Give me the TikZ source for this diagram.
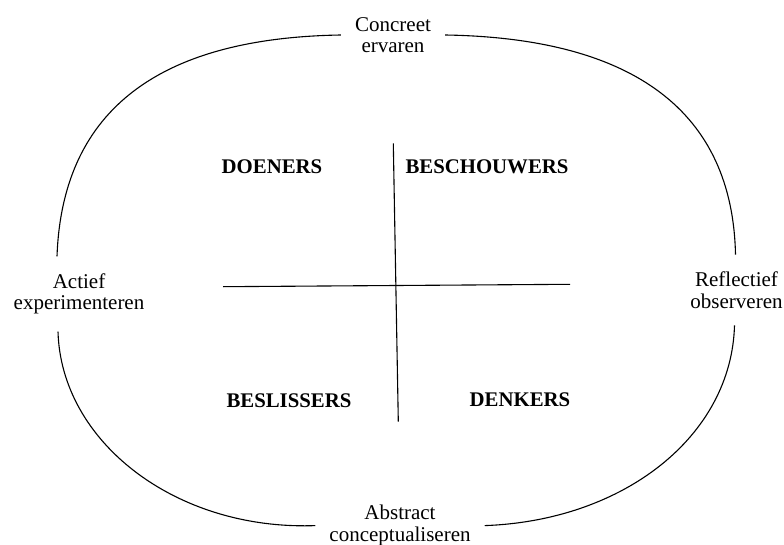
\documentclass[tikz,border=0pt]{standalone}
\usepackage{fontspec}
\setmainfont{Liberation Serif}
\usetikzlibrary{calc,positioning}

\begin{document}
\begin{tikzpicture}[x=1pt,y=-1pt,
    pole/.style={align=center, inner xsep=14pt, inner ysep=17pt,
      font=\fontsize{21}{21.5}\selectfont},
    kind/.style={inner sep=0pt, font=\fontsize{20.8}{24}\selectfont\bfseries},
    ring/.style={line width=1.1pt},
    axis/.style={line width=1.1pt}]
  \useasboundingbox (0,0) rectangle (784,545);

  % the four poles of the cycle
  \node[pole] (conc) at (393,35) {Concreet\\ervaren};
  \node[pole] (act) at (79,294) {Actief\\experimenteren};
  \node[pole] (refl) at (736.5,290) {Reflectief\\observeren};
  \node[pole] (abs) at (400,525.6) {Abstract\\conceptualiseren};

  % cycle between the poles
  \draw[ring] (conc.west) .. controls +(-190,3) and +(5,-140) .. ([xshift=-22pt]act.north);
  \draw[ring] (conc.east) .. controls +(190,3) and +(-3,-142) .. ([xshift=-1pt]refl.north);
  \draw[ring] ([xshift=-21pt]act.south) .. controls +(3,110) and +(-140,5) .. (abs.west);
  \draw[ring] (abs.east) .. controls +(140,-5) and +(-3,110) .. ([xshift=-2pt]refl.south);

  % cross
  \coordinate (hw) at (223,286.7);
  \coordinate (he) at (570,284.3);
  \coordinate (vn) at (393.3,143.3);
  \coordinate (vs) at (398.3,421.7);
  \draw[axis] (hw) -- (he);
  \draw[axis] (vn) -- (vs);

  % learning styles
  \node[kind] (doe) at (272,166.5) {DOENERS};
  \node[kind] (besch) at (487,166.3) {BESCHOUWERS};
  \node[kind] (besl) at (289,401) {BESLISSERS};
  \node[kind] (den) at (520,399.5) {DENKERS};
\end{tikzpicture}
\end{document}
